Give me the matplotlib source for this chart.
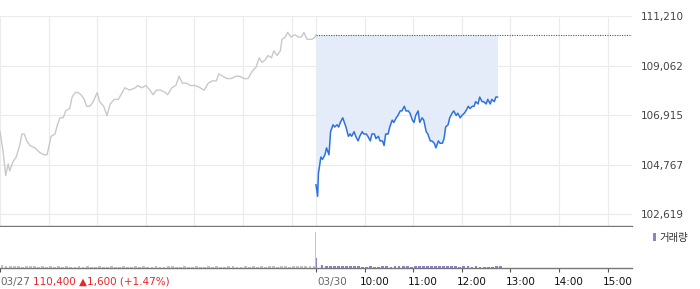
import matplotlib
matplotlib.use("Agg")
import matplotlib.pyplot as plt
from matplotlib.patches import Rectangle

# --- data ---------------------------------------------------------------
# minutes since 09:00 on 03/27 (the previous session), price in KRW
prev_minutes = [
    0, 4, 7, 10, 12, 16, 20, 25, 27, 30,
    33, 37, 43, 49, 54, 58, 60, 63, 68, 70,
    74, 78, 81, 86, 89, 93, 96, 100, 104, 107,
    111, 115, 120, 123, 128, 132, 136, 141, 146, 151,
    154, 160, 167, 170, 175, 180, 185, 189, 193, 198,
    204, 207, 212, 217, 221, 225, 230, 235, 241, 247,
    252, 257, 262, 267, 270, 275, 280, 285, 291, 296,
    301, 306, 311, 316, 320, 323, 327, 331, 335, 338,
    342, 346, 348, 352, 355, 359, 364, 368, 372, 375,
    379, 385, 389, 390,
]
prev_prices = [
    106200, 105300, 104300, 104800, 104500, 104900, 105100, 105700, 106100, 106100,
    105800, 105600, 105500, 105300, 105200, 105200, 105500, 106000, 106100, 106400,
    106800, 106800, 107100, 107200, 107700, 107900, 107900, 107800, 107600, 107300,
    107300, 107500, 107900, 107500, 107300, 106900, 107400, 107600, 107600, 107900,
    108100, 108000, 108100, 108200, 108100, 108200, 108000, 107800, 108000, 108000,
    107900, 107800, 108100, 108200, 108600, 108300, 108300, 108200, 108200, 108100,
    108000, 108300, 108400, 108400, 108700, 108600, 108500, 108500, 108600, 108600,
    108500, 108500, 108800, 109000, 109400, 109200, 109300, 109500, 109400, 109700,
    109500, 109700, 110200, 110300, 110500, 110300, 110400, 110300, 110300, 110500,
    110200, 110200, 110300, 110400,
]

# minutes since 09:00 on 03/30 (today)
today_minutes = [
    0, 2, 3, 6, 8, 11, 13, 16, 18, 21,
    23, 26, 28, 30, 33, 35, 37, 40, 42, 44,
    47, 49, 52, 54, 57, 59, 62, 64, 67, 69,
    72, 74, 77, 79, 82, 84, 86, 89, 91, 94,
    96, 99, 101, 104, 106, 109, 111, 114, 116, 119,
    121, 123, 126, 128, 131, 133, 136, 138, 141, 143,
    146, 148, 151, 153, 156, 158, 160, 163, 165, 168,
    170, 173, 175, 178, 180, 183, 185, 188, 190, 193,
    195, 197, 200, 202, 205, 207, 210, 212, 215, 217,
    220, 222, 224,
]
today_prices = [
    103900, 103400, 104400, 105100, 105000, 105200, 105500, 105200, 106200, 106500,
    106400, 106500, 106400, 106600, 106800, 106600, 106400, 106000, 106100, 106000,
    106200, 106000, 105800, 106000, 106200, 106100, 106100, 106000, 105800, 106100,
    106100, 105900, 106000, 105800, 105800, 105600, 106100, 106100, 106400, 106700,
    106600, 106800, 106900, 107100, 107100, 107300, 107100, 107100, 107000, 106700,
    106600, 106900, 107100, 106600, 106800, 106700, 106200, 106100, 105800, 105800,
    105700, 105500, 105800, 105700, 105700, 105900, 106400, 106500, 106800, 107000,
    107100, 106900, 107000, 106800, 106900, 107000, 107100, 107300, 107200, 107300,
    107300, 107500, 107400, 107700, 107500, 107500, 107400, 107600, 107400, 107600,
    107500, 107700, 107700,
]

prev_close = 110400
change = 1600
change_pct = 1.47

# volume (thousand shares), 5-minute buckets
prev_volume = [
    70, 50, 45, 40, 55, 35, 50, 40, 45, 30,
    40, 35, 50, 30, 45, 35, 40, 30, 35, 45,
    30, 40, 35, 30, 45, 30, 35, 40, 30, 35,
    45, 30, 35, 40, 30, 45, 35, 30, 40, 35,
    30, 45, 40, 30, 35, 50, 30, 35, 40, 30,
    35, 45, 30, 40, 35, 30, 45, 40, 35, 30,
    40, 35, 45, 30, 40, 35, 50, 40, 35, 45,
    40, 35, 50, 45, 40, 55, 45, 60,
]
prev_closing_auction = 900
today_opening_auction = 250
today_volume = [
    80, 60, 55, 60, 55, 50, 50, 45, 50, 40,
    35, 30, 40, 35, 30, 45, 40, 35, 45, 40,
    45, 40, 35, 45, 50, 45, 40, 50, 45, 55,
    40, 45, 50, 40, 35, 40, 45, 35, 40, 35,
    30, 35, 30, 40, 45,
]

y_ticks = [102619, 104767, 106915, 109062, 111210]
day2_hours = ["10:00", "11:00", "12:00", "13:00", "14:00", "15:00"]

SESSION = 390  # 09:00-15:30
GREY_LINE = "#c9c9cd"
BLUE = "#2f72de"
FILL = "#e5ecf9"
GRID = "#ebebeb"
PURPLE = "#8f80cc"
RED = "#e8262b"

plt.rcParams["font.family"] = ["DejaVu Sans"]

W, H = 700, 289
fig = plt.figure(figsize=(W / 100, H / 100), dpi=100)
ax = fig.add_axes([0, 63 / H, 632 / W, 210 / H])
axv = fig.add_axes([0, 21 / H, 632 / W, 41 / H])

# --- price panel ----------------------------------------------------------
ax.plot(prev_minutes, prev_prices, color=GREY_LINE, lw=1.0, zorder=3)
today_x = [SESSION + m for m in today_minutes]
ax.fill_between(today_x, today_prices, prev_close, color=FILL, lw=0, zorder=1)
ax.plot(today_x, today_prices, color=BLUE, lw=1.1, zorder=3)
ax.plot([SESSION, 2 * SESSION], [prev_close, prev_close], color="#555555",
        lw=0.8, ls=(0, (1, 1.2)), zorder=2)

ax.set_xlim(0, 2 * SESSION)
ax.set_ylim(y_ticks[0] - 504, y_ticks[-1])
grid_x = [0, 60, 120, 180, 240, 300, 360, SESSION] + [SESSION + 60 * k for k in range(1, 7)]
ax.set_xticks(grid_x)
ax.set_yticks(y_ticks)
ax.set_yticklabels([f"{v:,}" for v in y_ticks])
ax.yaxis.tick_right()
ax.tick_params(axis="y", length=0, pad=6, labelsize=7.5, labelcolor="#444444")
ax.tick_params(axis="x", length=0, labelbottom=False)
ax.grid(True, color=GRID, lw=0.8, zorder=0)
ax.set_axisbelow(True)
for side in ("top", "right", "left"):
    ax.spines[side].set_visible(False)
ax.spines["bottom"].set_color("#777777")
ax.spines["bottom"].set_linewidth(1.0)

# --- volume panel ---------------------------------------------------------
prev_vx = [5 * i + 2.5 for i in range(len(prev_volume))]
axv.bar(prev_vx, prev_volume, width=3.5, color="#c4c4c4", lw=0)
axv.bar([SESSION - 0.5], [prev_closing_auction], width=0.9, color="#c4c4c4", lw=0)
axv.bar([SESSION + 1.0], [today_opening_auction], width=1.6, color=PURPLE, lw=0)
today_vx = [SESSION + 5 * (i + 1) + 2.5 for i in range(len(today_volume))]
axv.bar(today_vx, today_volume, width=3.5, color=PURPLE, lw=0)

axv.set_xlim(0, 2 * SESSION)
axv.set_ylim(0, 1030)
axv.set_yticks([])
axv.set_xticks([0, SESSION] + [SESSION + 60 * k for k in range(1, 7)])
axv.tick_params(axis="x", length=3, width=0.8, color="#555555", labelbottom=False)
for side in ("top", "right", "left"):
    axv.spines[side].set_visible(False)
axv.spines["bottom"].set_color("#777777")
axv.spines["bottom"].set_linewidth(1.0)

# x labels under the volume panel
lab_kw = dict(xycoords=("data", "axes fraction"), textcoords="offset pixels",
              va="center", fontsize=7.5)
axv.annotate("03/27", xy=(0, 0), xytext=(0, -14), ha="left", color="#666666", **lab_kw)
axv.annotate(f"{prev_close:,} \u25b2{change:,} (+{change_pct:.2f}%)", xy=(0, 0),
             xytext=(33, -14), ha="left", color=RED, **lab_kw)
axv.annotate("03/30", xy=(SESSION, 0), xytext=(1, -14), ha="left", color="#666666", **lab_kw)
for k, lab in enumerate(day2_hours, start=1):
    axv.annotate(lab, xy=(SESSION + 60 * k, 0), xytext=(-5, -14), ha="left",
                 color="#111111", **lab_kw)

# legend of the volume panel
fig.add_artist(Rectangle((653 / W, 1 - 241 / H), 3 / W, 8 / H,
                         transform=fig.transFigure, color=PURPLE, lw=0))
fig.text(659 / W, 1 - 238 / H, "거래량", va="center", ha="left", fontsize=7.5,
         color="#333333", family=["Noto Sans CJK KR", "DejaVu Sans"])

fig.savefig("out.png", dpi=100)
